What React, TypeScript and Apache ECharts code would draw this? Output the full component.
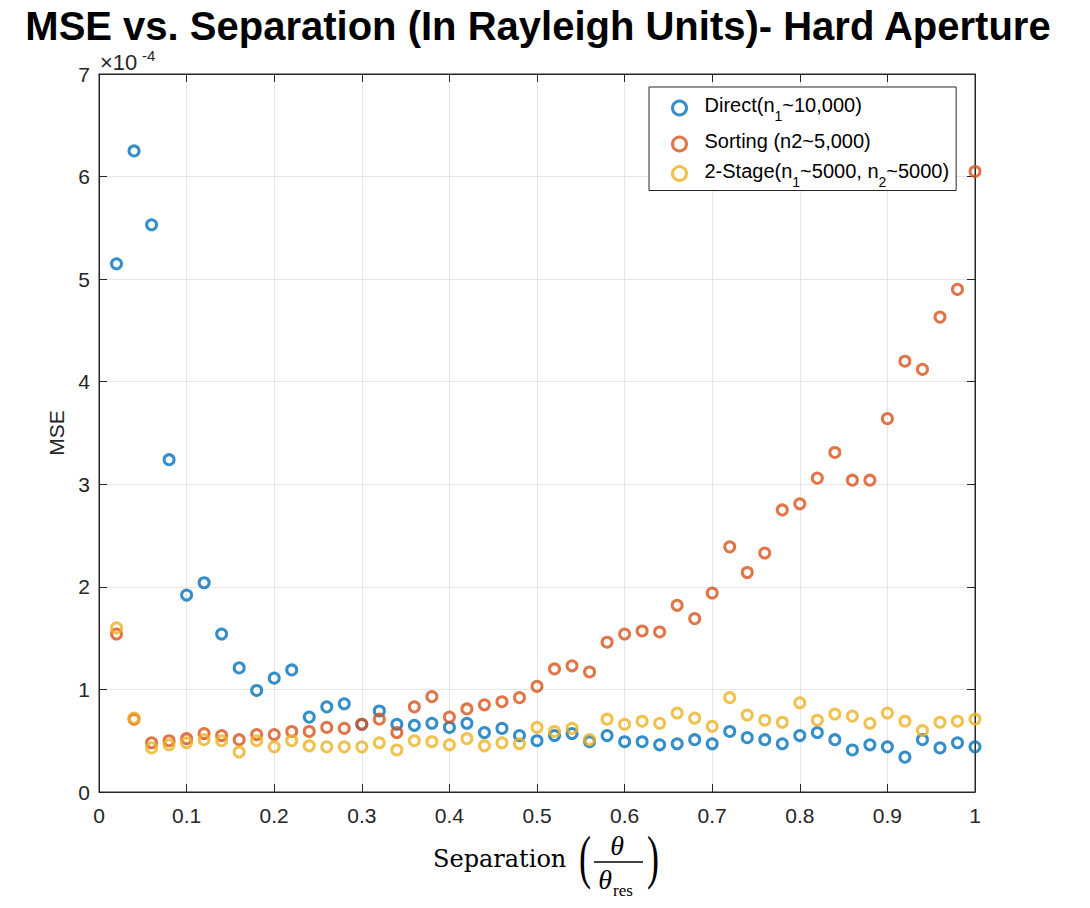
import React, { useEffect, useRef } from "react";
import * as echarts from "echarts";

const separation = [
  0.02, 0.04, 0.06, 0.08, 0.1, 0.12, 0.14, 0.16, 0.18, 0.2,
  0.22, 0.24, 0.26, 0.28, 0.3, 0.32, 0.34, 0.36, 0.38, 0.4,
  0.42, 0.44, 0.46, 0.48, 0.5, 0.52, 0.54, 0.56, 0.58, 0.6,
  0.62, 0.64, 0.66, 0.68, 0.7, 0.72, 0.74, 0.76, 0.78, 0.8,
  0.82, 0.84, 0.86, 0.88, 0.9, 0.92, 0.94, 0.96, 0.98, 1.0,
];

// MSE values in units of 1e-4
const directMSE = [
  5.15, 6.25, 5.53, 3.24, 1.92, 2.04, 1.54, 1.21, 0.99, 1.11,
  1.19, 0.73, 0.83, 0.86, 0.66, 0.79, 0.66, 0.65, 0.67, 0.63,
  0.67, 0.58, 0.62, 0.55, 0.5, 0.55, 0.57, 0.49, 0.55, 0.49,
  0.49, 0.46, 0.47, 0.51, 0.47, 0.59, 0.53, 0.51, 0.47, 0.55,
  0.58, 0.51, 0.41, 0.46, 0.44, 0.34, 0.51, 0.43, 0.48, 0.44,
];
const sortingMSE = [
  1.54, 0.71, 0.48, 0.5, 0.52, 0.57, 0.55, 0.51, 0.56, 0.56,
  0.59, 0.59, 0.63, 0.62, 0.66, 0.71, 0.58, 0.83, 0.93, 0.73,
  0.81, 0.85, 0.88, 0.92, 1.03, 1.2, 1.23, 1.17, 1.46, 1.54,
  1.57, 1.56, 1.82, 1.69, 1.94, 2.39, 2.14, 2.33, 2.75, 2.81,
  3.06, 3.31, 3.04, 3.04, 3.64, 4.2, 4.12, 4.63, 4.9, 6.05,
];
const twoStageMSE = [
  1.6, 0.72, 0.43, 0.46, 0.48, 0.51, 0.5, 0.39, 0.5, 0.44,
  0.5, 0.45, 0.44, 0.44, 0.44, 0.48, 0.41, 0.5, 0.49, 0.46,
  0.52, 0.45, 0.48, 0.47, 0.63, 0.59, 0.62, 0.51, 0.71, 0.66,
  0.69, 0.67, 0.77, 0.72, 0.64, 0.92, 0.75, 0.7, 0.68, 0.87,
  0.7, 0.76, 0.74, 0.67, 0.77, 0.69, 0.6, 0.68, 0.69, 0.71,
];

const seriesNames = [
  "Direct(n_1~10,000)",
  "Sorting (n2~5,000)",
  "2-Stage(n_1~5000, n_2~5000)",
];
const seriesColors = ["#0072BD", "#D95319", "#EDB120"];
const xTicks = [0, 0.1, 0.2, 0.3, 0.4, 0.5, 0.6, 0.7, 0.8, 0.9, 1];
const yTicks = [0, 1, 2, 3, 4, 5, 6, 7];

const SANS = "'Liberation Sans', Arial, Helvetica, sans-serif";
const SERIF = "'DejaVu Serif', 'Liberation Serif', serif";
const SERIF2 = "'Liberation Serif', 'DejaVu Serif', serif";
const AXIS_COLOR = "#262626";

function legendFormatter(name: string) {
  return name
    .split(/(n_\d)/)
    .map((part) => {
      const m = part.match(/^n_(\d)$/);
      if (m) return `{t|n}{s|${m[1]}}`;
      return part ? `{t|${part}}` : "";
    })
    .join("");
}

export default function App() {
  const ref = useRef<HTMLDivElement>(null);

  useEffect(() => {
    document.body.style.margin = "0";
    if (!ref.current) return;
    const chart = echarts.init(ref.current, null, { renderer: "svg" });

    const series = [directMSE, sortingMSE, twoStageMSE].map((vals, i) => ({
      name: seriesNames[i],
      type: "scatter" as const,
      symbol: "circle",
      symbolSize: 10,
      data: separation.map((x, j) => [x, vals[j]]),
      itemStyle: {
        color: "rgba(255,255,255,0)",
        borderColor: seriesColors[i],
        borderWidth: 3,
      },
      z: 2 + i,
    }));

    const tickFmt = (ticks: number[]) => (v: number) => {
      const t = ticks.find((x) => Math.abs(x - v) < 1e-6);
      return t === undefined ? "" : String(t);
    };

    const axisLine = { show: true, onZero: false, lineStyle: { color: AXIS_COLOR, width: 1 } };
    const axisTick = { show: true, inside: true, length: 8, lineStyle: { color: AXIS_COLOR } };

    chart.setOption({
      animation: false,
      backgroundColor: "#ffffff",
      title: {
        text: "MSE vs. Separation (In Rayleigh Units)- Hard Aperture",
        left: 538,
        textAlign: "center",
        top: 9,
        padding: 0,
        textStyle: {
          fontFamily: SANS,
          fontWeight: "bold",
          fontSize: 40,
          lineHeight: 34,
          color: "#000",
        },
      },
      grid: {
        left: 99,
        right: 115,
        top: 74,
        bottom: 116,
        show: true,
        borderColor: AXIS_COLOR,
        borderWidth: 1,
        backgroundColor: "#fff",
      },
      legend: {
        orient: "vertical",
        left: 649,
        top: 87,
        itemWidth: 14,
        itemHeight: 14,
        itemGap: 8,
        padding: [8, 7, 2, 22],
        backgroundColor: "#fff",
        borderColor: AXIS_COLOR,
        borderWidth: 1,
        borderRadius: 0,
        formatter: legendFormatter,
        textStyle: {
          padding: [0, 0, 0, 13],
          rich: {
            t: { fontFamily: SANS, fontSize: 20, color: "#000", lineHeight: 26, verticalAlign: "top" },
            s: { fontFamily: SANS, fontSize: 14, color: "#000", lineHeight: 14, verticalAlign: "top", padding: [14, 0, 0, 0] },
          },
        },
        data: seriesNames.map((n, i) => ({
          name: n,
          icon: "circle",
          itemStyle: { color: "#fff", borderColor: seriesColors[i], borderWidth: 3 },
        })),
      },
      xAxis: [
        {
          type: "value",
          min: 0,
          max: 1,
          interval: 0.1,
          position: "bottom",
          axisLine,
          axisTick,
          axisLabel: {
            fontFamily: SANS,
            fontSize: 21,
            color: AXIS_COLOR,
            margin: 13,
            formatter: tickFmt(xTicks),
          },
          splitLine: { show: true, lineStyle: { color: "#e6e6e6", width: 1 } },
        },
        {
          type: "value",
          min: 0,
          max: 1,
          interval: 0.1,
          position: "top",
          axisLine,
          axisTick,
          axisLabel: { show: false },
          splitLine: { show: false },
        },
      ],
      yAxis: [
        {
          type: "value",
          min: 0,
          max: 7,
          interval: 1,
          position: "left",
          name: "MSE",
          nameLocation: "middle",
          nameGap: 31,
          nameTextStyle: { fontFamily: SANS, fontSize: 21, color: AXIS_COLOR },
          axisLine,
          axisTick,
          axisLabel: {
            fontFamily: SANS,
            fontSize: 21,
            color: AXIS_COLOR,
            margin: 9,
            formatter: tickFmt(yTicks),
          },
          splitLine: { show: true, lineStyle: { color: "#e6e6e6", width: 1 } },
        },
        {
          type: "value",
          min: 0,
          max: 7,
          interval: 1,
          position: "right",
          axisLine,
          axisTick,
          axisLabel: { show: false },
          splitLine: { show: false },
        },
      ],
      series,
      graphic: [
        {
          type: "text",
          left: 100,
          top: 51,
          style: { text: "×10", fontFamily: SANS, fontSize: 22, fill: AXIS_COLOR },
        },
        {
          type: "text",
          left: 142,
          top: 48,
          style: { text: "-4", fontFamily: SANS, fontSize: 15, fill: AXIS_COLOR },
        },
        {
          type: "text",
          x: 433,
          y: 859,
          style: { text: "Separation", fontFamily: SERIF, fontSize: 24, fill: "#000", align: "left", verticalAlign: "middle" },
        },
        {
          type: "text",
          x: 585,
          y: 857,
          scaleX: 0.6,
          style: { text: "(", fontFamily: SERIF2, fontSize: 60, fill: "#000", align: "center", verticalAlign: "middle" },
        },
        {
          type: "text",
          x: 653,
          y: 857,
          scaleX: 0.6,
          style: { text: ")", fontFamily: SERIF2, fontSize: 60, fill: "#000", align: "center", verticalAlign: "middle" },
        },
        {
          type: "text",
          x: 617,
          y: 845,
          style: { text: "θ", fontFamily: SERIF2, fontStyle: "italic", fontSize: 28, fill: "#000", align: "center", verticalAlign: "middle" },
        },
        {
          type: "line",
          shape: { x1: 594, y1: 862, x2: 643, y2: 862 },
          style: { stroke: "#000", lineWidth: 1.3 },
        },
        {
          type: "text",
          x: 605,
          y: 879,
          style: { text: "θ", fontFamily: SERIF2, fontStyle: "italic", fontSize: 28, fill: "#000", align: "center", verticalAlign: "middle" },
        },
        {
          type: "text",
          x: 613,
          y: 890,
          style: { text: "res", fontFamily: SERIF2, fontSize: 17, fill: "#000", align: "left", verticalAlign: "middle" },
        },
      ],
    });

    return () => chart.dispose();
  }, []);

  return <div ref={ref} style={{ width: 1090, height: 908 }} />;
}
